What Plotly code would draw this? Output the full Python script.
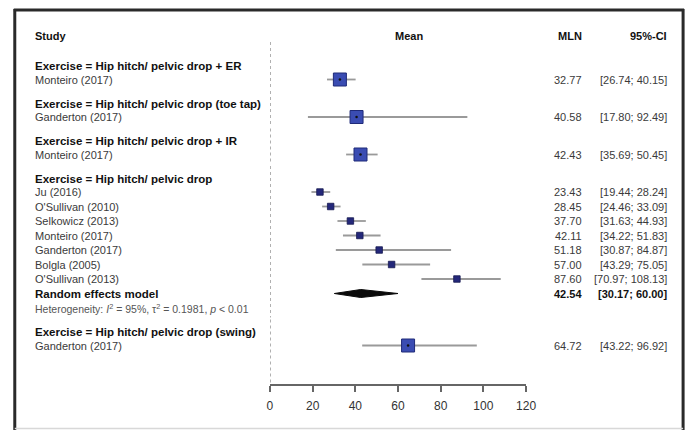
import plotly.graph_objects as go

# ---- data -------------------------------------------------------------
group_names = [
    "Exercise = Hip hitch/ pelvic drop + ER",
    "Exercise = Hip hitch/ pelvic drop (toe tap)",
    "Exercise = Hip hitch/ pelvic drop + IR",
    "Exercise = Hip hitch/ pelvic drop",
    "Exercise = Hip hitch/ pelvic drop (swing)",
]
study_group = [0, 1, 2, 3, 3, 3, 3, 3, 3, 3, 4]
study_names = [
    "Monteiro (2017)", "Ganderton (2017)", "Monteiro (2017)",
    "Ju (2016)", "O'Sullivan (2010)", "Selkowicz (2013)", "Monteiro (2017)",
    "Ganderton (2017)", "Bolgla (2005)", "O'Sullivan (2013)",
    "Ganderton (2017)",
]
mln = [32.77, 40.58, 42.43, 23.43, 28.45, 37.70, 42.11, 51.18, 57.00, 87.60, 64.72]
ci_lo = [26.74, 17.80, 35.69, 19.44, 24.46, 31.63, 34.22, 30.87, 43.29, 70.97, 43.22]
ci_hi = [40.15, 92.49, 50.45, 28.24, 33.09, 44.93, 51.83, 84.87, 75.05, 108.13, 96.92]

pooled_group = 3
pooled_label = "Random effects model"
pooled_mln = 42.54
pooled_lo = 30.17
pooled_hi = 60.00
heterogeneity = "Heterogeneity: <i>I</i><sup>2</sup> = 95%, τ<sup>2</sup> = 0.1981, <i>p</i> &lt; 0.01"

x_ticks = [0, 20, 40, 60, 80, 100, 120]

# ---- page geometry (pixels) --------------------------------------------
W, H = 698, 430
AXIS_Y = 384
X0_PX, X120_PX = 272, 533
LABEL_X = 32
MLN_RIGHT = 591
CI_RIGHT = 678


def px(x):
    return x / W


def py(y):
    return 1 - y / H


# row layout: header, studies, pooled rows, then a gap before next group
header_y, study_y, seg = {}, [None] * len(mln), []
y = 66.0
seg_top = 42.0
pooled_y = het_y = None
for g in range(len(group_names)):
    header_y[g] = y
    y += 13.5
    last = None
    for i, sg in enumerate(study_group):
        if sg == g:
            study_y[i] = y
            last = y
            y += 14.5
    if g == pooled_group:
        pooled_y = y
        y += 14.5
        het_y = y
        last = y
        y += 14.5
    bottom = AXIS_Y if g == len(group_names) - 1 else last + 9.5
    seg.append((seg_top, bottom))
    seg_top = bottom + 2
    y += 9.5

fig = go.Figure()

# reference line at zero, broken between subgroups
for top, bot in seg:
    fig.add_trace(go.Scatter(
        x=[0, 0], y=[top, bot], mode="lines",
        line=dict(color="#8c8c8c", width=1.5, dash="dot"),
        hoverinfo="skip", showlegend=False))

# confidence intervals
for i in range(len(mln)):
    fig.add_trace(go.Scatter(
        x=[ci_lo[i], ci_hi[i]], y=[study_y[i], study_y[i]], mode="lines",
        line=dict(color="#9a9a9a", width=1.8),
        hoverinfo="skip", showlegend=False))

# study boxes: large for single-study subgroups, small inside the pooled group
group_sizes = [study_group.count(g) for g in study_group]
big = [i for i in range(len(mln)) if group_sizes[i] == 1]
small = [i for i in range(len(mln)) if group_sizes[i] > 1]

fig.add_trace(go.Scatter(
    x=[mln[i] for i in big], y=[study_y[i] for i in big], mode="markers",
    marker=dict(symbol="square", size=13, color="#3a4cb2",
                line=dict(color="#1f2a78", width=1)),
    hoverinfo="skip", showlegend=False))
fig.add_trace(go.Scatter(
    x=[mln[i] for i in big], y=[study_y[i] for i in big], mode="markers",
    marker=dict(symbol="circle", size=2.5, color="#111"),
    hoverinfo="skip", showlegend=False))
fig.add_trace(go.Scatter(
    x=[mln[i] for i in small], y=[study_y[i] for i in small], mode="markers",
    marker=dict(symbol="square", size=6.5, color="#24287a",
                line=dict(color="#15184f", width=0.8)),
    hoverinfo="skip", showlegend=False))

# pooled diamond
half_h = 4
fig.add_trace(go.Scatter(
    x=[pooled_lo, pooled_mln, pooled_hi, pooled_mln, pooled_lo],
    y=[pooled_y, pooled_y - half_h, pooled_y, pooled_y + half_h, pooled_y],
    mode="lines", fill="toself", fillcolor="#0a0a0a",
    line=dict(color="#0a0a0a", width=1),
    hoverinfo="skip", showlegend=False))

# ---- text ----------------------------------------------------------------
FONT = "Liberation Sans, Arial, sans-serif"
ann = []


def text(x, y, s, size=11, color="#333", bold=False, anchor="left"):
    if bold:
        s = "<b>" + s + "</b>"
    ann.append(dict(x=px(x), xref="paper", y=y, yref="y", text=s,
                    showarrow=False, xanchor=anchor, yanchor="middle",
                    borderpad=0,
                    font=dict(family=FONT, size=size, color=color)))


# column headings
text(LABEL_X, 36, "Study", bold=True, color="#111")
text(414, 36, "Mean", bold=True, color="#111", anchor="center")
text(MLN_RIGHT, 36, "MLN", bold=True, color="#111", anchor="right")
text(CI_RIGHT, 36, "95%-CI", bold=True, color="#111", anchor="right")

for g, name in enumerate(group_names):
    text(LABEL_X, header_y[g], name, size=11.5, bold=True, color="#111")

for i, name in enumerate(study_names):
    text(LABEL_X, study_y[i], name, color="#3a3a3a")
    text(MLN_RIGHT, study_y[i], f"{mln[i]:.2f}", color="#3a3a3a", anchor="right")
    text(CI_RIGHT, study_y[i], f"[{ci_lo[i]:.2f}; {ci_hi[i]:.2f}]",
         color="#3a3a3a", anchor="right")

text(LABEL_X, pooled_y, pooled_label, size=11.5, bold=True, color="#111")
text(MLN_RIGHT, pooled_y, f"{pooled_mln:.2f}", bold=True, color="#111", anchor="right")
text(CI_RIGHT, pooled_y, f"[{pooled_lo:.2f}; {pooled_hi:.2f}]",
     bold=True, color="#111", anchor="right")
text(LABEL_X, het_y, heterogeneity, size=10.5, color="#555")

# ---- frame ---------------------------------------------------------------
frame = "#2a2a2a"
shapes = [
    dict(type="line", xref="paper", yref="paper", x0=px(12), x1=px(12),
         y0=py(9), y1=py(H), line=dict(color=frame, width=3)),
    dict(type="line", xref="paper", yref="paper", x0=px(11), x1=px(694),
         y0=py(10), y1=py(10), line=dict(color=frame, width=3)),
    dict(type="line", xref="paper", yref="paper", x0=px(693), x1=px(693),
         y0=py(9), y1=py(H), line=dict(color=frame, width=3)),
    dict(type="line", xref="paper", yref="paper", x0=px(12), x1=px(693),
         y0=py(428.5), y1=py(428.5), line=dict(color="#d8d8d8", width=1.5)),
]

fig.update_layout(
    width=W, height=H,
    margin=dict(l=0, r=0, t=0, b=0),
    paper_bgcolor="white", plot_bgcolor="white",
    annotations=ann, shapes=shapes,
    xaxis=dict(domain=[px(X0_PX), px(X120_PX)], range=[0, 120],
               tickvals=x_ticks, ticks="outside", ticklen=6, tickwidth=1.5,
               tickcolor="#666", showline=True, linecolor="#666", linewidth=1.5,
               showgrid=False, zeroline=False, ticklabelstandoff=4,
               tickfont=dict(family=FONT, size=12, color="#333")),
    yaxis=dict(domain=[(H - AXIS_Y) / H, 1], range=[AXIS_Y, 0],
               visible=False, showgrid=False, zeroline=False),
)

fig.write_html("out.html")
